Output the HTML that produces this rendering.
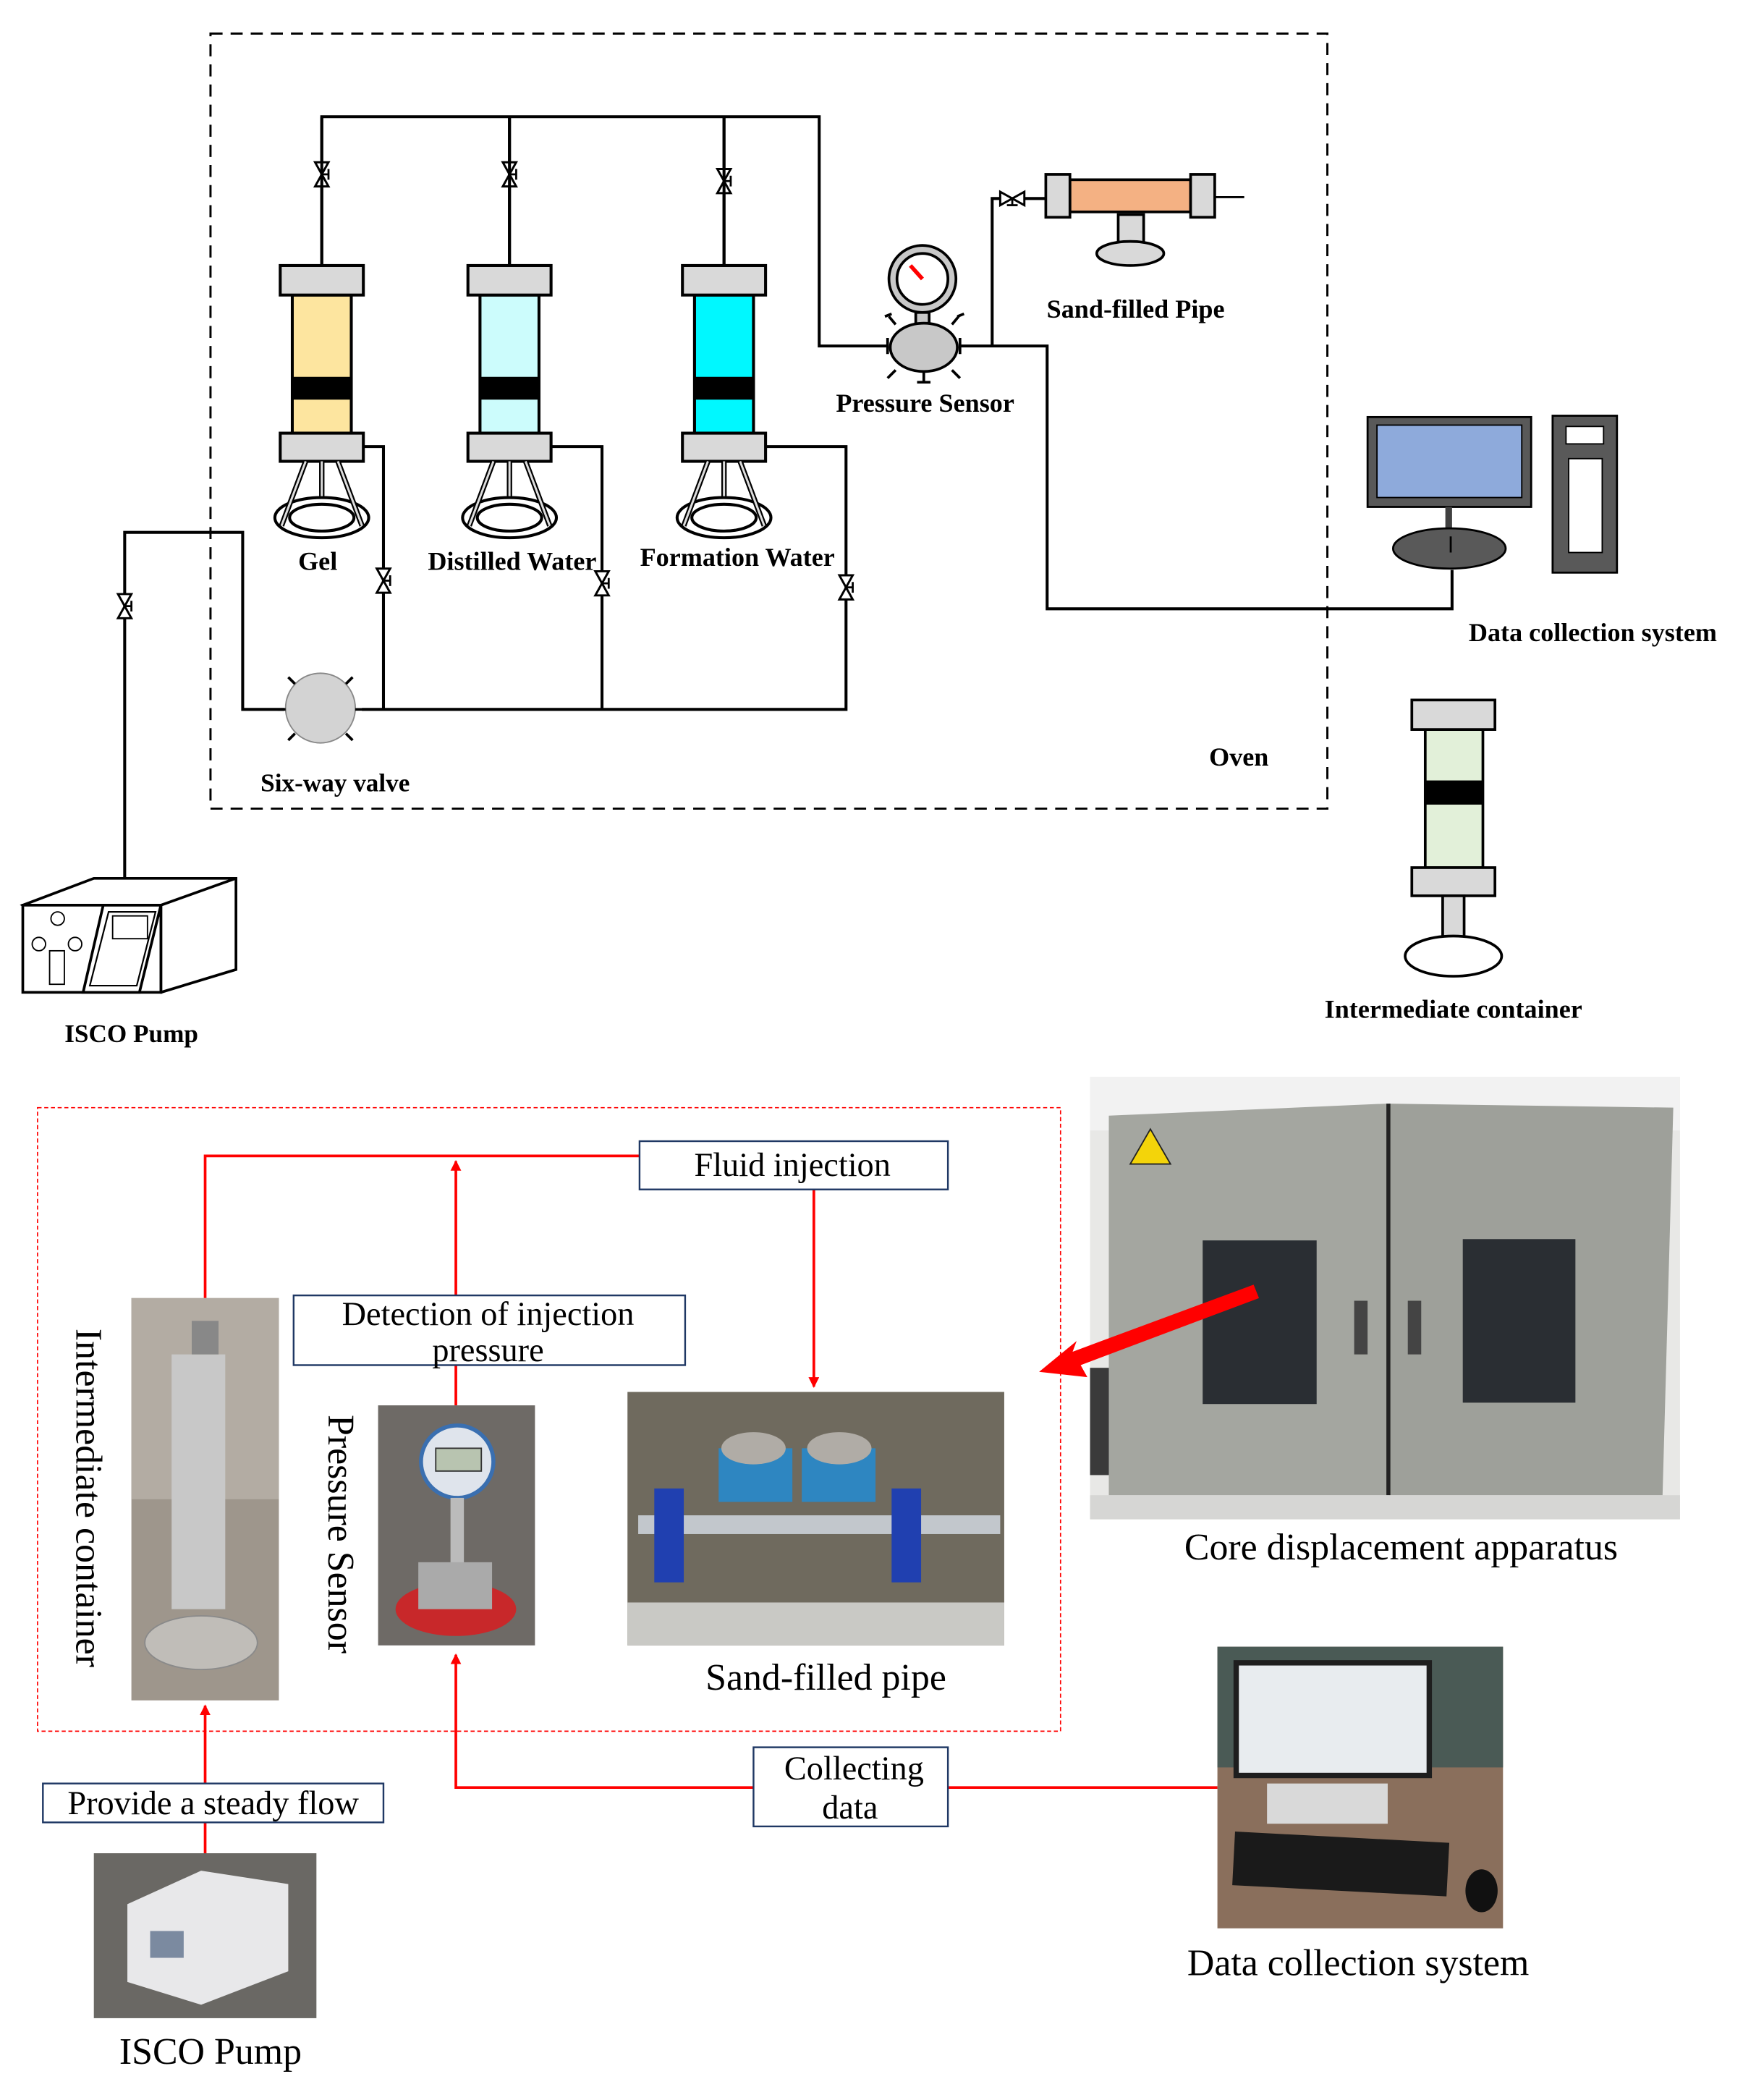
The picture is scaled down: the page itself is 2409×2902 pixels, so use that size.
<!DOCTYPE html>
<html><head><meta charset="utf-8"><style>html,body{margin:0;padding:0;background:#fff}svg{display:block}</style></head>
<body>
<svg width="2409" height="2902" viewBox="0 0 1300 1566" xmlns="http://www.w3.org/2000/svg" font-family="Liberation Serif, serif">
<defs>
<g id="valve"><path d="M-5,-9 L5,-9 L-5,9 L5,9 Z" fill="#fff" stroke="#000" stroke-width="1.6"/><line x1="1" y1="0" x2="5" y2="0" stroke="#000" stroke-width="1.5"/><line x1="5" y1="-4" x2="5" y2="4" stroke="#000" stroke-width="1.5"/></g>
<g id="cont">
<line x1="0" y1="-111" x2="0" y2="0" stroke="#000" stroke-width="2.2"/>
<rect x="-31" y="0" width="62" height="22" fill="#d9d9d9" stroke="#000" stroke-width="2.2"/>
<rect x="-31" y="125" width="62" height="21" fill="#d9d9d9" stroke="#000" stroke-width="2.2"/>
<ellipse cx="0" cy="188" rx="35" ry="15" fill="#fff" stroke="#000" stroke-width="2.2"/>
<ellipse cx="0" cy="188" rx="24" ry="10" fill="#fff" stroke="#000" stroke-width="2.2"/>
<path d="M-12,146 L-30,194 M0,146 L0,172 M12,146 L30,194" stroke="#000" stroke-width="4"/>
<path d="M-12,146 L-30,194 M0,146 L0,172 M12,146 L30,194" stroke="#ddd" stroke-width="1.6"/>
</g>
<marker id="ra" markerWidth="8" markerHeight="8" refX="7" refY="4" orient="auto" markerUnits="userSpaceOnUse"><path d="M0,0 L8,4 L0,8 Z" fill="#f00"/></marker>
</defs>

<rect x="157" y="25" width="833" height="578" fill="none" stroke="#000" stroke-width="1.6" stroke-dasharray="9,6"/>

<path d="M240,198 V87 H611 V258 H662 M380,87 V198 M540,87 V198" fill="none" stroke="#000" stroke-width="2.2"/>
<use href="#valve" x="240" y="130"/><use href="#valve" x="380" y="130"/><use href="#valve" x="540" y="135"/>

<g transform="translate(240,198)"><rect x="-22" y="22" width="44" height="103" fill="#fde59f" stroke="#000" stroke-width="2.2"/><rect x="-22" y="83" width="44" height="17" fill="#000"/><use href="#cont"/></g>
<g transform="translate(380,198)"><rect x="-22" y="22" width="44" height="103" fill="#ccfcfc" stroke="#000" stroke-width="2.2"/><rect x="-22" y="83" width="44" height="17" fill="#000"/><use href="#cont"/></g>
<g transform="translate(540,198)"><rect x="-22" y="22" width="44" height="103" fill="#00f8ff" stroke="#000" stroke-width="2.2"/><rect x="-22" y="83" width="44" height="17" fill="#000"/><use href="#cont"/></g>

<path d="M271,333 H286 V529 M411,333 H449 V529 M571,333 H631 V529 H270 M212,529 H181 V397 H93 V655" fill="none" stroke="#000" stroke-width="2.2"/>
<use href="#valve" x="286" y="433"/><use href="#valve" x="449" y="435"/><use href="#valve" x="631" y="438"/><use href="#valve" x="93" y="452"/>

<circle cx="239" cy="528" r="26" fill="#d3d3d3" stroke="#888" stroke-width="1"/>
<path d="M213,529 h-6 M265,529 h6 M220,510 l-5,-5 M258,510 l5,-5 M220,547 l-5,5 M258,547 l5,5" stroke="#000" stroke-width="2"/>
<text x="250" y="590" font-size="19" font-weight="bold" text-anchor="middle">Six-way valve</text>

<circle cx="688" cy="208" r="25" fill="#c8c8c8" stroke="#000" stroke-width="2"/>
<circle cx="688" cy="208" r="19" fill="#fff" stroke="#000" stroke-width="2"/>
<path d="M679,198 L688,208" stroke="#f00" stroke-width="3"/>
<rect x="683" y="233" width="10" height="14" fill="#c8c8c8" stroke="#000" stroke-width="2"/>
<ellipse cx="689" cy="259" rx="25" ry="18" fill="#c8c8c8" stroke="#000" stroke-width="2"/>
<path d="M662,252 v12 M716,252 v12 M668,242 l-5,-6 M710,242 l5,-6 M668,276 l-6,6 M710,276 l6,6 M689,277 v8 M684,285 h10 M660,236 l5,-2 M714,236 l5,-2" stroke="#000" stroke-width="2"/>
<text x="690" y="307" font-size="19.5" font-weight="bold" text-anchor="middle">Pressure Sensor</text>
<path d="M716,258 H740 V148 H780 M740,258 H781 V454 H1083 V425" fill="none" stroke="#000" stroke-width="2.2"/>
<g transform="translate(755,148) rotate(90)"><use href="#valve"/></g>

<rect x="798" y="134" width="90" height="24" fill="#f4b183" stroke="#000" stroke-width="2"/>
<rect x="780" y="130" width="18" height="32" fill="#d9d9d9" stroke="#000" stroke-width="2"/>
<rect x="888" y="130" width="18" height="32" fill="#d9d9d9" stroke="#000" stroke-width="2"/>
<path d="M906,147 H928" stroke="#000" stroke-width="1.5"/>
<rect x="834" y="160" width="19" height="25" fill="#d9d9d9" stroke="#000" stroke-width="2"/>
<ellipse cx="843" cy="189" rx="25" ry="9" fill="#d9d9d9" stroke="#000" stroke-width="2"/>
<text x="847" y="237" font-size="19.5" font-weight="bold" text-anchor="middle">Sand-filled Pipe</text>

<text x="237" y="425" font-size="19.5" font-weight="bold" text-anchor="middle">Gel</text>
<text x="382" y="425" font-size="19.5" font-weight="bold" text-anchor="middle">Distilled Water</text>
<text x="550" y="422" font-size="19.5" font-weight="bold" text-anchor="middle">Formation Water</text>
<text x="924" y="571" font-size="19.5" font-weight="bold" text-anchor="middle">Oven</text>

<rect x="1020" y="311" width="122" height="67" fill="#595959" stroke="#000" stroke-width="1.5"/>
<rect x="1027" y="317" width="108" height="54" fill="#8eaadb" stroke="#000" stroke-width="1"/>
<rect x="1078" y="378" width="5" height="22" fill="#404040"/>
<ellipse cx="1081" cy="409" rx="42" ry="15" fill="#595959" stroke="#000" stroke-width="1.5"/>
<line x1="1082" y1="400" x2="1082" y2="412" stroke="#000" stroke-width="1.5"/>
<rect x="1158" y="310" width="48" height="117" fill="#595959" stroke="#000" stroke-width="1.5"/>
<rect x="1168" y="318" width="28" height="13" fill="#fff" stroke="#000"/>
<rect x="1170" y="342" width="25" height="70" fill="#fff" stroke="#000"/>
<text x="1188" y="478" font-size="19.5" font-weight="bold" text-anchor="middle">Data collection system</text>

<rect x="1063" y="544" width="43" height="103" fill="#e2f0d9" stroke="#000" stroke-width="2"/>
<rect x="1063" y="582" width="43" height="18" fill="#000"/>
<rect x="1053" y="522" width="62" height="22" fill="#d9d9d9" stroke="#000" stroke-width="2"/>
<rect x="1053" y="647" width="62" height="21" fill="#d9d9d9" stroke="#000" stroke-width="2"/>
<rect x="1076" y="668" width="16" height="38" fill="#d9d9d9" stroke="#000" stroke-width="2"/>
<ellipse cx="1084" cy="713" rx="36" ry="15" fill="#fff" stroke="#000" stroke-width="2"/>
<text x="1084" y="759" font-size="19.5" font-weight="bold" text-anchor="middle">Intermediate container</text>

<path d="M17,675 L70,655 L176,655 L176,723 L120,740 Z" fill="#fff" stroke="#000" stroke-width="2"/>
<path d="M17,675 H120 L176,655 M120,675 V740" fill="none" stroke="#000" stroke-width="2"/>
<rect x="17" y="675" width="103" height="65" fill="#fff" stroke="#000" stroke-width="2"/>
<path d="M77,675 H120 L104,740 H62 Z" fill="#fff" stroke="#000" stroke-width="2"/>
<path d="M81,680 H116 L102,735 H67 Z" fill="none" stroke="#000" stroke-width="1.2"/>
<rect x="84" y="683" width="26" height="17" fill="#fff" stroke="#000"/>
<circle cx="43" cy="685" r="5" fill="#fff" stroke="#000"/><circle cx="29" cy="704" r="5" fill="#fff" stroke="#000"/><circle cx="56" cy="704" r="5" fill="#fff" stroke="#000"/>
<rect x="37" y="709" width="11" height="25" fill="#fff" stroke="#000"/>
<text x="98" y="777" font-size="19" font-weight="bold" text-anchor="middle">ISCO  Pump</text>

<rect x="28" y="826" width="763" height="465" fill="none" stroke="#f00" stroke-width="0.9" stroke-dasharray="3,2"/>

<g stroke="#f00" stroke-width="2" fill="none">
<path d="M477,862 H153 V968"/>
<path d="M340,966 V866" marker-end="url(#ra)"/>
<path d="M607,887 V1034" marker-end="url(#ra)"/>
<path d="M340,1018 V1048"/>
<path d="M153,1382 V1272" marker-end="url(#ra)"/>
<path d="M562,1333 H340 V1234" marker-end="url(#ra)"/>
<path d="M707,1333 H908"/>
</g>

<g fill="#fff" stroke="#1f3864" stroke-width="1.3">
<rect x="477" y="851" width="230" height="36"/>
<rect x="219" y="966" width="292" height="52"/>
<rect x="32" y="1330" width="254" height="29"/>
<rect x="562" y="1303" width="145" height="59"/>
</g>
<g font-size="25" text-anchor="middle" fill="#000">
<text x="591" y="877">Fluid injection</text>
<text x="364" y="988">Detection of injection</text>
<text x="364" y="1015">pressure</text>
<text x="159" y="1353">Provide a steady flow</text>
<text x="637" y="1327">Collecting</text>
<text x="634" y="1356">data</text>
</g>

<rect x="98" y="968" width="110" height="300" fill="#9e968c"/>
<rect x="98" y="968" width="110" height="150" fill="#b3aca3"/>
<rect x="128" y="1010" width="40" height="190" fill="#c8c8c8"/>
<rect x="143" y="985" width="20" height="25" fill="#888"/>
<ellipse cx="150" cy="1225" rx="42" ry="20" fill="#c0bdb8" stroke="#8a8a8a"/>

<rect x="282" y="1048" width="117" height="179" fill="#6e6a66"/>
<circle cx="341" cy="1090" r="27" fill="#dfe4ec" stroke="#3a6fb0" stroke-width="3"/>
<rect x="325" y="1080" width="34" height="17" fill="#b8c4b0" stroke="#333"/>
<rect x="336" y="1117" width="10" height="50" fill="#bbb"/>
<ellipse cx="340" cy="1200" rx="45" ry="20" fill="#c8282a"/>
<rect x="312" y="1165" width="55" height="35" fill="#aaa"/>

<rect x="468" y="1038" width="281" height="189" fill="#6f6a5e"/>
<rect x="468" y="1195" width="281" height="32" fill="#c9c9c5"/>
<rect x="536" y="1080" width="55" height="40" fill="#2e86c1"/><rect x="598" y="1080" width="55" height="40" fill="#2e86c1"/>
<ellipse cx="562" cy="1080" rx="24" ry="12" fill="#b0aca6"/><ellipse cx="626" cy="1080" rx="24" ry="12" fill="#b0aca6"/>
<rect x="476" y="1130" width="270" height="14" fill="#c2c7cc"/>
<rect x="488" y="1110" width="22" height="70" fill="#2040b0"/><rect x="665" y="1110" width="22" height="70" fill="#2040b0"/>

<rect x="813" y="803" width="440" height="330" fill="#e8e8e6"/>
<rect x="813" y="803" width="440" height="40" fill="#f2f2f2"/>
<rect x="813" y="1020" width="40" height="80" fill="#3a3a3a"/>
<path d="M827,832 L1034,823 L1034,1115 L827,1115 Z" fill="#a4a6a0"/>
<path d="M1036,823 L1248,826 L1240,1115 L1036,1115 Z" fill="#9ea09a"/>
<rect x="1034" y="823" width="3" height="292" fill="#222"/>
<rect x="897" y="925" width="85" height="122" fill="#2a2e33"/>
<rect x="1091" y="924" width="84" height="122" fill="#2a2e33"/>
<rect x="1010" y="970" width="10" height="40" fill="#444"/><rect x="1050" y="970" width="10" height="40" fill="#444"/>
<path d="M858,842 L843,868 L873,868 Z" fill="#f3d40a" stroke="#222"/>
<rect x="813" y="1115" width="440" height="18" fill="#d6d6d4"/>
<path d="M935,958 L800,1008 L803,1000 L775,1023 L811,1027 L806,1018 L939,968 Z" fill="#f00"/>

<rect x="908" y="1228" width="213" height="210" fill="#8a6f5c"/>
<rect x="908" y="1228" width="213" height="90" fill="#4a5a55"/>
<rect x="920" y="1238" width="148" height="88" fill="#1e1e1e"/>
<rect x="924" y="1242" width="140" height="80" fill="#e8ecef"/>
<rect x="945" y="1330" width="90" height="30" fill="#d9d9d9"/>
<rect x="920" y="1370" width="160" height="40" fill="#1a1a1a" transform="rotate(3 1000 1390)"/>
<ellipse cx="1105" cy="1410" rx="12" ry="16" fill="#111"/>

<rect x="70" y="1382" width="166" height="123" fill="#6a6864"/>
<path d="M95,1420 L150,1395 L215,1405 L215,1470 L150,1495 L95,1478 Z" fill="#e8e8ea"/>
<rect x="112" y="1440" width="25" height="20" fill="#7b8aa0"/>

<g font-size="28" fill="#000">
<text x="1045" y="1163" text-anchor="middle">Core displacement  apparatus</text>
<text x="616" y="1260" text-anchor="middle">Sand-filled  pipe</text>
<text x="1013" y="1473" text-anchor="middle">Data collection  system</text>
<text x="157" y="1539" text-anchor="middle">ISCO Pump</text>
<text transform="translate(57,1117) rotate(90)" text-anchor="middle">Intermediate  container</text>
<text transform="translate(245,1144) rotate(90)" text-anchor="middle">Pressure Sensor</text>
</g>
</svg>
</body></html>
